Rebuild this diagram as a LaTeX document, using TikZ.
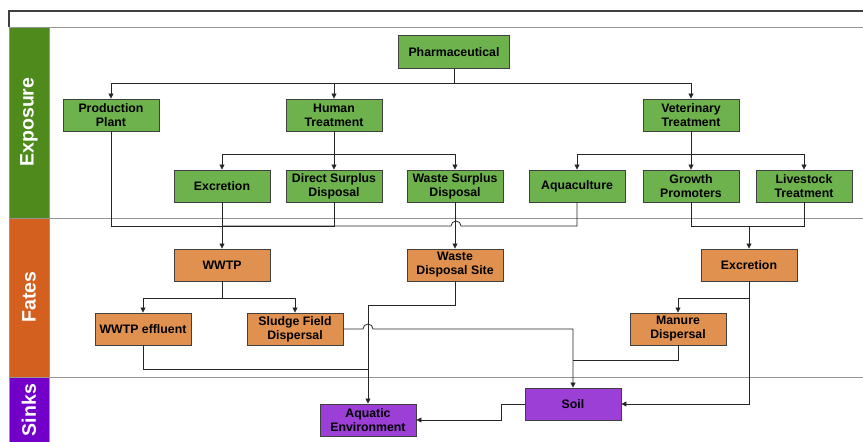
\documentclass[tikz,border=0pt]{standalone}
\usepackage{fontspec}
\setmainfont{Liberation Sans}
\usetikzlibrary{arrows.meta}
\definecolor{nodegreen}{RGB}{109,178,77}
\definecolor{nodeorange}{RGB}{224,145,79}
\definecolor{nodepurple}{RGB}{155,63,214}
\definecolor{lanegreen}{RGB}{78,138,28}
\definecolor{laneorange}{RGB}{212,96,31}
\definecolor{lanepurple}{RGB}{115,0,200}
\definecolor{edgegray}{RGB}{64,64,64}
\definecolor{linegray}{RGB}{150,150,150}
\tikzset{
  box/.style={draw=edgegray, line width=0.9pt, minimum width=96pt, minimum height=32pt,
    inner sep=0pt, align=center, font=\fontsize{12.3}{14}\selectfont\bfseries},
  gbox/.style={box, fill=nodegreen},
  obox/.style={box, fill=nodeorange},
  pbox/.style={box, fill=nodepurple},
  conn/.style={draw=black!85, line width=0.8pt},
  arr/.style={conn, -{Triangle[length=5pt,width=5pt]}},
  lanelabel/.style={rotate=90, text=white, font=\fontsize{19.5}{22}\selectfont\bfseries},
  laneline/.style={draw=linegray, line width=1pt}
}
\begin{document}
\begin{tikzpicture}[x=1pt,y=-1pt]
\useasboundingbox (0,0) rectangle (863,442);
% frame
\draw[draw=edgegray, line width=1.2pt] (9,27) -- (9,11) -- (863,11);
\draw[laneline] (9,27) -- (863,27);
\draw[laneline] (49,218) -- (863,218);
\draw[laneline] (49,377) -- (863,377);
\filldraw[fill=lanegreen, draw=linegray, line width=0.8pt] (9,27) rectangle (49,218);
\filldraw[fill=laneorange, draw=linegray, line width=0.8pt] (9,218) rectangle (49,377);
\filldraw[fill=lanepurple, draw=linegray, line width=0.8pt] (9,377) rectangle (49,442);
\node[lanelabel] (lexp) at (29,122) {Exposure};
\node[lanelabel] (lfat) at (29,297) {Fates};
\node[lanelabel] (lsnk) at (29,410) {Sinks};
% nodes
\node[gbox, minimum width=111pt, minimum height=33pt] (pharma) at (454,52) {Pharmaceutical};
\node[gbox] (prod) at (111,115) {Production\\Plant};
\node[gbox] (human) at (334,115) {Human\\Treatment};
\node[gbox] (vet) at (691,115) {Veterinary\\Treatment};
\node[gbox] (exc1) at (222,186) {Excretion};
\node[gbox] (dsd) at (334,186) {Direct Surplus\\Disposal};
\node[gbox] (wsd) at (455,186) {Waste Surplus\\Disposal};
\node[gbox] (aqua) at (577,186) {Aquaculture};
\node[gbox] (grow) at (691,186) {Growth\\Promoters};
\node[gbox] (live) at (804,186) {Livestock\\Treatment};
\node[obox] (wwtp) at (222,265) {WWTP};
\node[obox] (wds) at (455,265) {Waste\\Disposal Site};
\node[obox] (exc2) at (749,265) {Excretion};
\node[obox] (eff) at (143,329) {WWTP effluent};
\node[obox] (sludge) at (295,329) {Sludge Field\\Dispersal};
\node[obox] (manure) at (678,329) {Manure\\Dispersal};
\node[pbox] (aquatic) at (368,420) {Aquatic\\Environment};
\node[pbox] (soil) at (573,404) {Soil};
% junction coordinates
\coordinate (j1) at (454,83);
\coordinate (j2) at (222,226);
\coordinate (j3) at (749,226);
\coordinate (j4) at (368,369);
\coordinate (j5) at (573,360);
% exposure connectors
\draw[conn] (pharma.south) -- (j1);
\draw[arr] (j1) -| (prod.north);
\draw[arr] (j1) -| (human.north);
\draw[arr] (j1) -| (vet.north);
\draw[arr] (human.south) -- ++(0,23) -| (exc1.north);
\draw[arr] (human.south) -- (dsd.north);
\draw[arr] (human.south) -- ++(0,23) -| (wsd.north);
\draw[arr] (vet.south) -- ++(0,23) -| (aqua.north);
\draw[arr] (vet.south) -- (grow.north);
\draw[arr] (vet.south) -- ++(0,23) -| (live.north);
% to fates
\draw[conn] (prod.south) |- (j2);
\draw[conn] (dsd.south) |- (j2);
\draw[conn] (aqua.south) -- (577,226) -- (461,226) arc[start angle=0, end angle=-180, radius=5] -- (j2);
\draw[arr] (exc1.south) -- (wwtp.north);
\draw[arr] (wsd.south) -- (wds.north);
\draw[conn] (grow.south) |- (j3);
\draw[conn] (live.south) |- (j3);
\draw[arr] (j3) -- (exc2.north);
% fates connectors
\draw[arr] (wwtp.south) -- ++(0,17) -| (eff.north);
\draw[arr] (wwtp.south) -- ++(0,17) -| (sludge.north);
\draw[arr] (exc2.south) -- ++(0,17) -| (manure.north);
\draw[arr] (exc2.south) |- (soil.east);
\draw[arr] (wds.south) -- ++(0,24) -| (aquatic.north);
\draw[conn] (eff.south) |- (j4);
\draw[arr] (sludge.east) -- (363,329) arc[start angle=180, end angle=360, radius=5] -- (573,329) -- (soil.north);
\draw[conn] (manure.south) |- (j5);
\draw[arr] (soil.west) -- (501,404) -- (501,420) -- (aquatic.east);
\end{tikzpicture}
\end{document}
